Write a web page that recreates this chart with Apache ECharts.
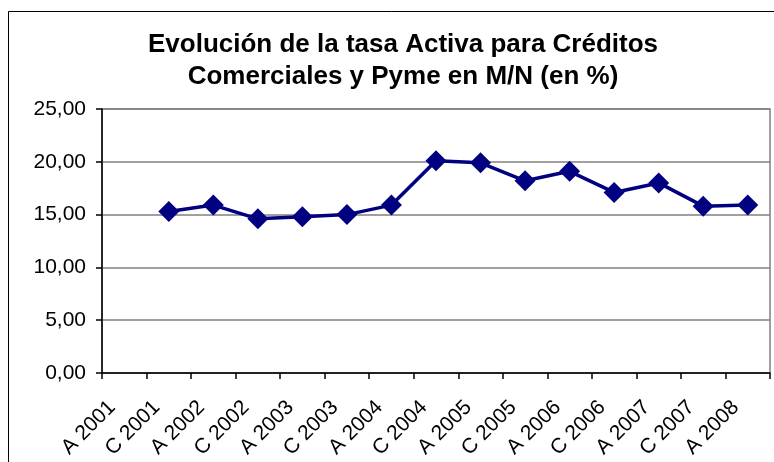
<!DOCTYPE html>
<html>
<head>
<meta charset="utf-8">
<script src="https://cdn.jsdelivr.net/npm/echarts@6/dist/echarts.min.js"></script>
<style>
html,body{margin:0;padding:0;background:#fff;}
#main{width:774px;height:462px;}
</style>
</head>
<body>
<div id="main"></div>
<script>
const titleText = 'Evolución de la tasa Activa para Créditos\nComerciales y Pyme en M/N (en %)';
const categories = ['A 2001','C 2001','A 2002','C 2002','A 2003','C 2003','A 2004','C 2004','A 2005','C 2005','A 2006','C 2006','A 2007','C 2007','A 2008'];
const tasaActiva = [null, 15.3, 15.9, 14.6, 14.8, 15.0, 15.9, 20.1, 19.9, 18.2, 19.1, 17.1, 18.0, 15.8, 15.9];
const yMin = 0, yMax = 25, yStep = 5;

const chart = echarts.init(document.getElementById('main'), null, {renderer:'canvas'});
chart.setOption({
  animation: false,
  backgroundColor: '#ffffff',
  title: {
    text: titleText,
    left: 398,
    textAlign: 'center',
    top: 24,
    textStyle: {
      fontFamily: 'Liberation Sans, Arial, sans-serif',
      fontWeight: 'bold',
      fontSize: 26,
      lineHeight: 32,
      color: '#000'
    }
  },
  graphic: [{
    type: 'rect',
    shape: {x: 8.5, y: 11.5, width: 900, height: 600},
    style: {fill: 'none', stroke: '#000', lineWidth: 1},
    silent: true,
    z: -1
  }],
  grid: {
    left: 102, top: 109, right: 4, bottom: 89,
    show: true, borderColor: '#808080', borderWidth: 1.5, backgroundColor: 'transparent'
  },
  xAxis: {
    type: 'category',
    data: categories,
    boundaryGap: true,
    axisLine: {lineStyle: {color: '#000', width: 1.5}},
    axisTick: {show: true, length: 6, lineStyle: {color: '#000', width: 1.5}},
    axisLabel: {
      rotate: 45,
      interval: 0,
      margin: 19,
      padding: [0, 17, 0, 0],
      fontFamily: 'Liberation Sans, Arial, sans-serif',
      fontSize: 21,
      color: '#000'
    },
    splitLine: {show: false}
  },
  yAxis: {
    type: 'value',
    min: yMin, max: yMax, interval: yStep,
    axisLine: {show: true, lineStyle: {color: '#000', width: 1.5}},
    axisTick: {show: true, length: 6, lineStyle: {color: '#000', width: 1.5}},
    axisLabel: {
      margin: 16,
      fontFamily: 'Liberation Sans, Arial, sans-serif',
      fontSize: 21,
      color: '#000',
      formatter: v => v.toFixed(2).replace('.', ',')
    },
    splitLine: {show: true, lineStyle: {color: '#808080', width: 1.5}}
  },
  series: [{
    type: 'line',
    data: tasaActiva,
    connectNulls: false,
    symbol: 'diamond',
    symbolSize: 21,
    showAllSymbol: true,
    lineStyle: {color: '#000080', width: 3.5},
    itemStyle: {color: '#000080'}
  }]
});
</script>
</body>
</html>
